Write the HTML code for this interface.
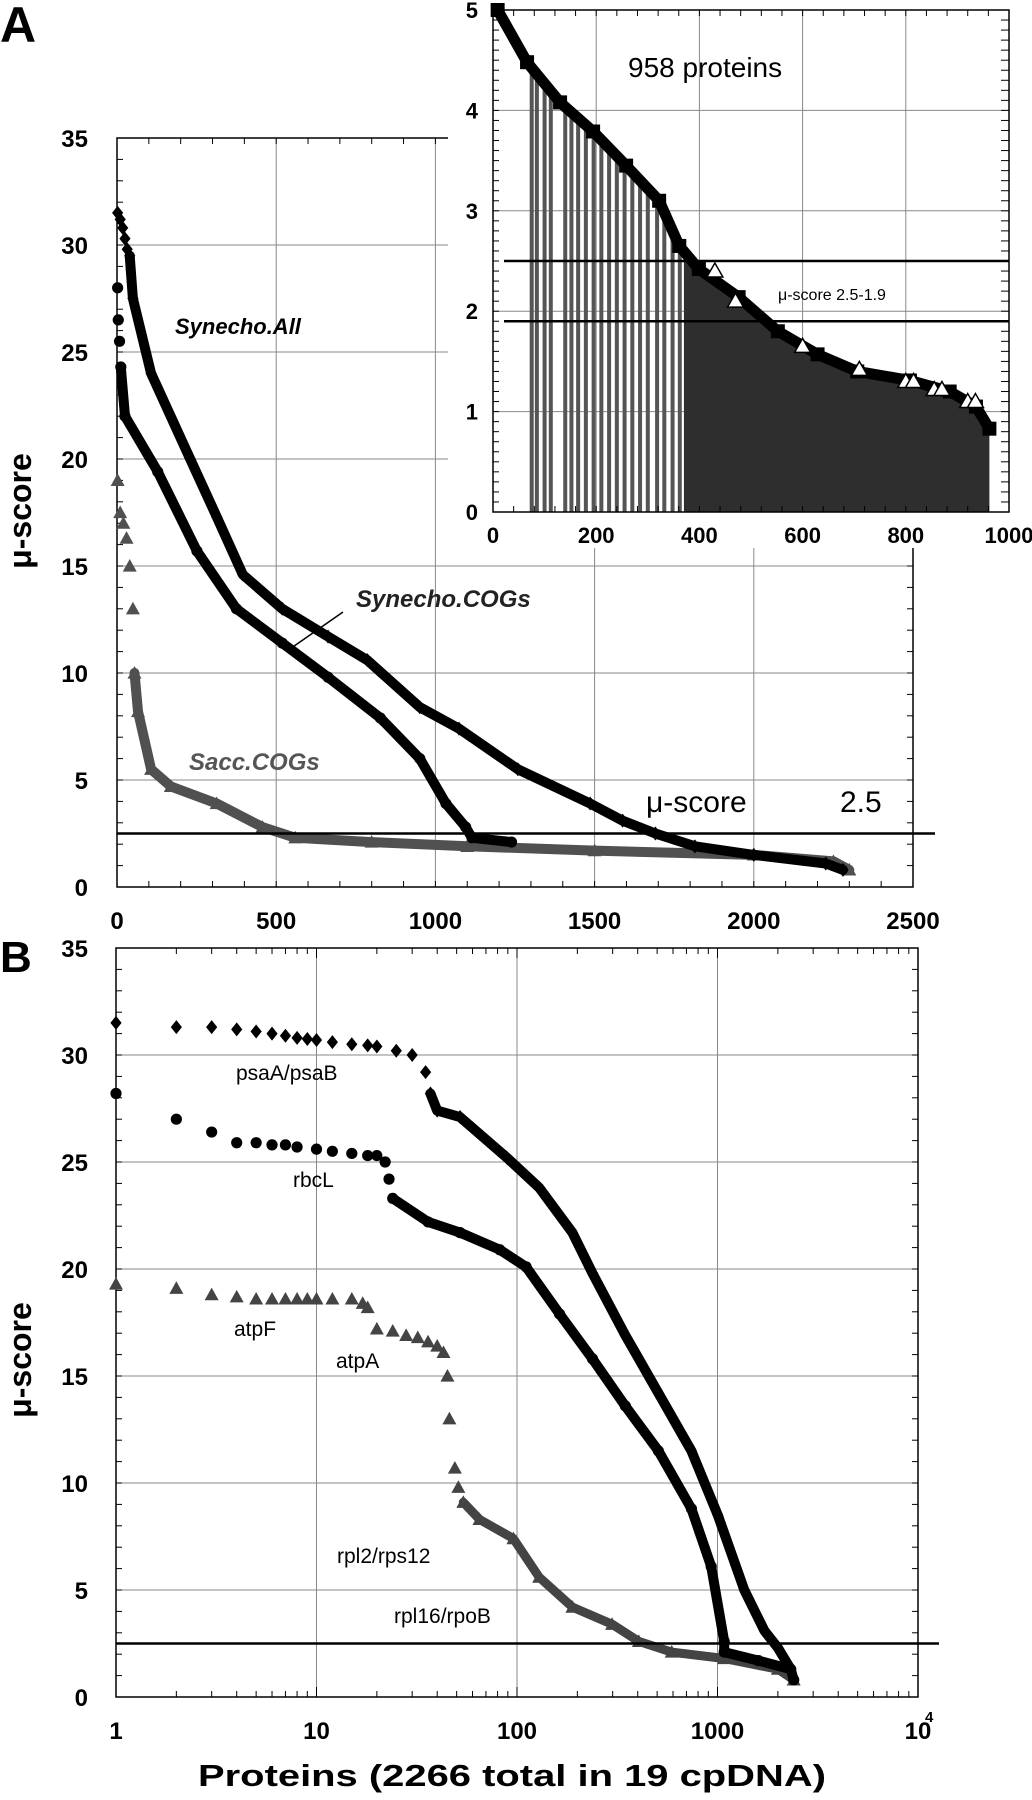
<!DOCTYPE html>
<html><head><meta charset="utf-8">
<style>
html,body{margin:0;padding:0;background:#fff;}
svg{display:block;font-family:"Liberation Sans",sans-serif;}
</style></head>
<body>
<svg id="fig" width="1032" height="1800" viewBox="0 0 1032 1800" xmlns="http://www.w3.org/2000/svg">
<g id="panelA"></g>
<g id="inset"></g>
<g id="panelB"></g>
</svg>
<script>
// ---------- Panel A data (linear protein rank vs mu-score) ----------
const aXTicks = [0, 500, 1000, 1500, 2000, 2500];
const aYTicks = [0, 5, 10, 15, 20, 25, 30, 35];
const allX = [2, 10, 18, 25, 32, 40, 50, 107, 230, 313, 395, 519, 663, 786, 951, 1074, 1259, 1486, 1588, 1691, 1815, 2000, 2226, 2280];
const allY = [31.5, 31.2, 30.8, 30.3, 29.8, 29.5, 27.5, 24, 20, 17.3, 14.6, 13, 11.7, 10.6, 8.4, 7.4, 5.5, 3.9, 3.1, 2.5, 1.9, 1.5, 1.1, 0.8];
const cogsX = [2, 4, 8, 12, 25, 128, 251, 375, 519, 663, 827, 951, 1033, 1095, 1115, 1239];
const cogsY = [28, 26.5, 25.5, 24.3, 22, 19.4, 15.7, 13, 11.4, 9.8, 7.9, 6, 3.9, 2.8, 2.3, 2.1];
const saccX = [2, 10, 20, 30, 40, 50, 55, 66, 107, 169, 313, 457, 560, 800, 1100, 1500, 2000, 2250, 2300];
const saccY = [19, 17.5, 17, 16.3, 15, 13, 10, 8.2, 5.5, 4.7, 3.9, 2.8, 2.3, 2.1, 1.9, 1.7, 1.5, 1.2, 0.8];
const aThreshold = 2.5;

// ---------- Inset data ----------
const iXTicks = [0, 200, 400, 600, 800, 1000];
const iYTicks = [0, 1, 2, 3, 4, 5];
const insetX = [9, 66, 130, 194, 258, 322, 361, 399, 476, 552, 629, 706, 808, 885, 936, 962];
const insetY = [5, 4.48, 4.08, 3.79, 3.45, 3.1, 2.65, 2.42, 2.14, 1.8, 1.57, 1.4, 1.31, 1.2, 1.05, 0.83];
const insetBarX = [75, 85, 100, 112, 140, 152, 165, 180, 195, 210, 225, 240, 255, 270, 285, 300, 318, 332, 348, 362];
const insetTriX = [430, 470, 600, 710, 800, 815, 855, 870, 920, 935];
const insetTriY = [2.4, 2.1, 1.65, 1.42, 1.3, 1.3, 1.22, 1.22, 1.1, 1.1];
const insetSolidFrom = 370, insetSolidTo = 962;
const insetLines = [2.5, 1.9];

// ---------- Panel B data (log protein rank) ----------
const bXTicks = [1, 10, 100, 1000, 10000];
const bXLabels = ["1", "10", "100", "1000", "10"];
const bYTicks = [0, 5, 10, 15, 20, 25, 30, 35];
const psaX = [1, 2, 3, 4, 5, 6, 7, 8, 9, 10, 12, 15, 18, 20, 25, 30, 35, 37, 40, 52, 89, 129, 189, 238, 347, 507, 741, 1003, 1360, 1714, 2000, 2318];
const psaY = [31.5, 31.3, 31.3, 31.2, 31.1, 31, 30.9, 30.8, 30.75, 30.7, 30.6, 30.5, 30.45, 30.4, 30.2, 30, 29.2, 28.2, 27.4, 27.1, 25.2, 23.8, 21.7, 19.8, 16.9, 14.2, 11.5, 8.5, 5, 3.1, 2.3, 1.3];
const rbcX = [1, 2, 3, 4, 5, 6, 7, 8, 10, 12, 15, 18, 20, 22, 23, 24, 36, 52, 82, 111, 163, 238, 347, 507, 741, 930, 1080, 1080, 1600, 2318, 2400];
const rbcY = [28.2, 27, 26.4, 25.9, 25.9, 25.8, 25.8, 25.7, 25.6, 25.5, 25.4, 25.3, 25.3, 25, 24.2, 23.3, 22.2, 21.7, 20.9, 20.1, 17.9, 15.8, 13.6, 11.5, 8.8, 6.1, 2.6, 2.1, 1.7, 1.3, 0.8];
const atpX = [1, 2, 3, 4, 5, 6, 7, 8, 9, 10, 12, 15, 17, 18, 20, 24, 28, 32, 36, 40, 43, 45, 46, 49, 51, 54, 65, 96, 129, 189, 298, 405, 591, 1080, 2000, 2400];
const atpY = [19.3, 19.1, 18.8, 18.7, 18.6, 18.6, 18.6, 18.6, 18.6, 18.6, 18.6, 18.6, 18.4, 18.2, 17.2, 17.1, 16.9, 16.8, 16.6, 16.4, 16.1, 15, 13, 10.7, 9.8, 9.1, 8.3, 7.4, 5.6, 4.2, 3.4, 2.6, 2.1, 1.8, 1.3, 0.8];
const bThreshold = 2.5;

// ---------- helpers ----------
const NS = "http://www.w3.org/2000/svg";
function mk(parent, tag, attrs, text) {
  const e = document.createElementNS(NS, tag);
  for (const k in attrs) e.setAttribute(k, attrs[k]);
  if (text !== undefined) e.textContent = text;
  parent.appendChild(e);
  return e;
}
const A = document.getElementById("panelA");
const I = document.getElementById("inset");
const B = document.getElementById("panelB");

const AL = 117, AR = 913, AT = 138, AB = 887;
const xA = v => AL + v / 2500 * (AR - AL);
const yA = v => AB - v / 35 * (AB - AT);
const IL = 493, IR = 1009, IT = 10, IB = 512;
const xI = v => IL + v / 1000 * (IR - IL);
const yI = v => IB - v / 5 * (IB - IT);
const BL = 116, BR = 918, BT = 948, BB = 1697;
const xB = v => BL + Math.log10(v) / 4 * (BR - BL);
const yB = v => BB - v / 35 * (BB - BT);

function marker(g, shape, cx, cy, r, fill, name) {
  let e;
  if (shape === "diamond") {
    e = mk(g, "polygon", {points: `${cx},${cy - r} ${cx + r * 0.8},${cy} ${cx},${cy + r} ${cx - r * 0.8},${cy}`, fill: fill});
  } else if (shape === "circle") {
    e = mk(g, "circle", {cx: cx, cy: cy, r: r * 0.8, fill: fill});
  } else if (shape === "square") {
    e = mk(g, "rect", {x: cx - r, y: cy - r, width: 2 * r, height: 2 * r, fill: fill});
  } else {
    e = mk(g, "polygon", {points: `${cx},${cy - r} ${cx + r},${cy + r * 0.8} ${cx - r},${cy + r * 0.8}`, fill: fill});
  }
  
  
  return e;
}
function series(g, xs, ys, fx, fy, shape, color, width, lineFrom, name) {
  const sg = mk(g, "g", {});
  
  
  const pts = xs.slice(lineFrom).map((x, i) => fx(x).toFixed(1) + "," + fy(ys[i + lineFrom]).toFixed(1)).join(" ");
  const pl = mk(sg, "polyline", {points: pts, fill: "none", stroke: color, "stroke-width": width, "stroke-linejoin": "round", "stroke-linecap": "round"});
  
  
  xs.forEach((x, i) => marker(sg, shape, fx(x), fy(ys[i]), 7, color, name + '-point'));
}
function txt(g, x, y, s, attrs, name) {
  const t = mk(g, "text", Object.assign({x: x, y: y}, attrs), s);
  
  
  return t;
}

// ---------- Panel A ----------
txt(A, 0, 42, "A", {"font-size": 50, "font-weight": "bold"}, "panel-a-label");
aXTicks.slice(1, -1).forEach(v => {
  const l = mk(A, "line", {x1: xA(v), x2: xA(v), y1: AT, y2: AB, stroke: "#888", "stroke-width": 1});
   
});
aYTicks.slice(1, -1).forEach(v => {
  const l = mk(A, "line", {x1: AL, x2: AR, y1: yA(v), y2: yA(v), stroke: "#888", "stroke-width": 1});
   
});
for (let v = 0; v <= 35; v += 1) {
  mk(A, "line", {x1: AL, x2: AL + 6, y1: yA(v), y2: yA(v), stroke: "#000", "stroke-width": 1});
  mk(A, "line", {x1: AR, x2: AR - 6, y1: yA(v), y2: yA(v), stroke: "#000", "stroke-width": 1});
}
for (let v = 0; v <= 2500; v += 100) {
  mk(A, "line", {x1: xA(v), x2: xA(v), y1: AB, y2: AB - 6, stroke: "#000", "stroke-width": 1});
  mk(A, "line", {x1: xA(v), x2: xA(v), y1: AT, y2: AT + 6, stroke: "#000", "stroke-width": 1});
}
const fa = mk(A, "rect", {x: AL, y: AT, width: AR - AL, height: AB - AT, fill: "none", stroke: "#000", "stroke-width": 1.5});
 
aYTicks.forEach(v => txt(A, 88, yA(v) + 9, String(v), {"font-size": 24, "font-weight": "bold", "text-anchor": "end"}, "a-y-tick-label"));
aXTicks.forEach(v => txt(A, xA(v), 929, String(v), {"font-size": 24, "font-weight": "bold", "text-anchor": "middle"}, "a-x-tick-label"));
txt(A, 0, 0, "μ-score", {"font-size": 32, "font-weight": "bold", "text-anchor": "middle", transform: "translate(31,511) rotate(-90)"}, "a-y-axis-title");
series(A, saccX, saccY, xA, yA, "triangle", "#505050", 10, 6, "sacc-cogs-series");
series(A, cogsX, cogsY, xA, yA, "circle", "#000", 10, 3, "synecho-cogs-series");
series(A, allX, allY, xA, yA, "diamond", "#000", 10, 5, "synecho-all-series");
const ta = mk(A, "line", {x1: AL, x2: 935, y1: yA(aThreshold), y2: yA(aThreshold), stroke: "#000", "stroke-width": 2.5});
 
txt(A, 175, 334, "Synecho.All", {"font-size": 22, "font-weight": "bold", "font-style": "italic"}, "synecho-all-label");
txt(A, 356, 607, "Synecho.COGs", {"font-size": 24, "font-weight": "bold", "font-style": "italic", fill: "#222"}, "synecho-cogs-label");
const ll = mk(A, "line", {x1: 287, y1: 651, x2: 343, y2: 612, stroke: "#000", "stroke-width": 1.5});
 
txt(A, 189, 770, "Sacc.COGs", {"font-size": 24, "font-weight": "bold", "font-style": "italic", fill: "#555"}, "sacc-cogs-label");
txt(A, 646, 812, "μ-score", {"font-size": 30}, "a-threshold-label");
txt(A, 840, 812, "2.5", {"font-size": 30}, "a-threshold-value");

// ---------- Inset ----------
const ibg = mk(I, "rect", {x: IL - 45, y: 0, width: 1032 - IL + 45, height: IB + 36, fill: "#fff"});
 
iXTicks.slice(1, -1).forEach(v => {
  const l = mk(I, "line", {x1: xI(v), x2: xI(v), y1: IT, y2: IB, stroke: "#888", "stroke-width": 1});
   
});
iYTicks.slice(1, -1).forEach(v => {
  const l = mk(I, "line", {x1: IL, x2: IR, y1: yI(v), y2: yI(v), stroke: "#888", "stroke-width": 1});
   
});
function insetAt(x) {
  for (let i = 0; i < insetX.length - 1; i++) {
    if (x <= insetX[i + 1]) {
      const t = (x - insetX[i]) / (insetX[i + 1] - insetX[i]);
      return insetY[i] + t * (insetY[i + 1] - insetY[i]);
    }
  }
  return insetY[insetY.length - 1];
}
insetBarX.forEach(x => {
  const r = mk(I, "rect", {x: xI(x) - 2, y: yI(insetAt(x)), width: 4, height: yI(0) - yI(insetAt(x)), fill: "#555"});
   
});
{
  let pts = [xI(insetSolidFrom) + "," + yI(0), xI(insetSolidFrom) + "," + yI(insetAt(insetSolidFrom))];
  insetX.forEach((x, i) => { if (x >= insetSolidFrom) pts.push(xI(x) + "," + yI(insetY[i])); });
  pts.push(xI(insetSolidTo) + "," + yI(0));
  const p = mk(I, "polygon", {points: pts.join(" "), fill: "#2e2e2e"});
   
}
for (let v = 0; v <= 5.001; v += 0.1) {
  mk(I, "line", {x1: IL, x2: IL + 6, y1: yI(v), y2: yI(v), stroke: "#000", "stroke-width": 1});
  mk(I, "line", {x1: IR, x2: IR - 8, y1: yI(v), y2: yI(v), stroke: "#000", "stroke-width": 1});
}
for (let v = 0; v <= 1000; v += 40) {
  mk(I, "line", {x1: xI(v), x2: xI(v), y1: IB, y2: IB - 6, stroke: "#000", "stroke-width": 1});
  mk(I, "line", {x1: xI(v), x2: xI(v), y1: IT, y2: IT + 6, stroke: "#000", "stroke-width": 1});
}
const fi = mk(I, "rect", {x: IL, y: IT, width: IR - IL, height: IB - IT, fill: "none", stroke: "#000", "stroke-width": 1.5});
 
const sq = mk(I, "g", {});
 
mk(sq, "polyline", {points: insetX.map((x, i) => xI(x) + "," + yI(insetY[i])).join(" "), fill: "none", stroke: "#000", "stroke-width": 11});
insetX.forEach((x, i) => marker(sq, "square", xI(x), yI(insetY[i]), 7, "#000", "inset-square"));
insetLines.forEach(v => {
  const l = mk(I, "line", {x1: 504, x2: 1009, y1: yI(v), y2: yI(v), stroke: "#000", "stroke-width": 2.5});
   
});
insetTriX.forEach((x, i) => {
  const cx = xI(x), cy = yI(insetTriY[i]);
  const t = mk(I, "polygon", {points: `${cx},${cy - 8} ${cx + 8},${cy + 6} ${cx - 8},${cy + 6}`, fill: "#fff", stroke: "#000", "stroke-width": 1.5});
   
});
iYTicks.forEach(v => txt(I, 478, yI(v) + 8, String(v), {"font-size": 22, "font-weight": "bold", "text-anchor": "end"}, "inset-y-tick-label"));
iXTicks.forEach(v => txt(I, xI(v), 543, String(v), {"font-size": 22, "font-weight": "bold", "text-anchor": "middle"}, "inset-x-tick-label"));
txt(I, 628, 77, "958 proteins", {"font-size": 28}, "inset-count-label");
txt(I, 778, 300, "μ-score 2.5-1.9", {"font-size": 16}, "inset-range-label");

// ---------- Panel B ----------
txt(B, 0, 972, "B", {"font-size": 44, "font-weight": "bold"}, "panel-b-label");
bXTicks.slice(1, -1).forEach(v => {
  const l = mk(B, "line", {x1: xB(v), x2: xB(v), y1: BT, y2: BB, stroke: "#888", "stroke-width": 1});
   
});
bYTicks.slice(1, -1).forEach(v => {
  const l = mk(B, "line", {x1: BL, x2: BR, y1: yB(v), y2: yB(v), stroke: "#888", "stroke-width": 1});
   
});
for (let v = 0; v <= 35; v += 1) {
  mk(B, "line", {x1: BL, x2: BL + 6, y1: yB(v), y2: yB(v), stroke: "#000", "stroke-width": 1});
  mk(B, "line", {x1: BR, x2: BR - 6, y1: yB(v), y2: yB(v), stroke: "#000", "stroke-width": 1});
}
for (let d = 1; d < 10000; d *= 10) {
  for (let m = 1; m <= 9; m++) {
    const len = m === 1 ? 10 : 6;
    mk(B, "line", {x1: xB(d * m), x2: xB(d * m), y1: BB, y2: BB - len, stroke: "#000", "stroke-width": 1});
    mk(B, "line", {x1: xB(d * m), x2: xB(d * m), y1: BT, y2: BT + len, stroke: "#000", "stroke-width": 1});
  }
}
const fb = mk(B, "rect", {x: BL, y: BT, width: BR - BL, height: BB - BT, fill: "none", stroke: "#000", "stroke-width": 1.5});
 
bYTicks.forEach(v => txt(B, 88, yB(v) + 9, String(v), {"font-size": 24, "font-weight": "bold", "text-anchor": "end"}, "b-y-tick-label"));
bXTicks.forEach((v, i) => txt(B, xB(v), 1739, bXLabels[i], {"font-size": 24, "font-weight": "bold", "text-anchor": "middle"}, "b-x-tick-label"));
txt(B, 925, 1722, "4", {"font-size": 15, "font-weight": "bold"}, "b-x-tick-exponent");
txt(B, 0, 0, "μ-score", {"font-size": 32, "font-weight": "bold", "text-anchor": "middle", transform: "translate(31,1360) rotate(-90)"}, "b-y-axis-title");
txt(B, 512, 1786, "Proteins (2266 total in 19 cpDNA)", {"font-size": 31, "font-weight": "bold", "text-anchor": "middle", textLength: 628, lengthAdjust: "spacingAndGlyphs"}, "b-x-axis-title");
series(B, atpX, atpY, xB, yB, "triangle", "#444", 9, 25, "atp-series");
series(B, rbcX, rbcY, xB, yB, "circle", "#000", 10, 15, "rbcl-series");
series(B, psaX, psaY, xB, yB, "diamond", "#000", 10, 17, "psa-series");
const tb = mk(B, "line", {x1: BL, x2: 939, y1: yB(bThreshold), y2: yB(bThreshold), stroke: "#000", "stroke-width": 2.5});
 
const lf = {"font-size": 21};
txt(B, 236, 1080, "psaA/psaB", lf, "psa-label");
txt(B, 293, 1187, "rbcL", lf, "rbcl-label");
txt(B, 234, 1336, "atpF", lf, "atpf-label");
txt(B, 336, 1368, "atpA", lf, "atpa-label");
txt(B, 337, 1563, "rpl2/rps12", lf, "rpl2-label");
txt(B, 394, 1623, "rpl16/rpoB", lf, "rpl16-label");
</script>
</body></html>
